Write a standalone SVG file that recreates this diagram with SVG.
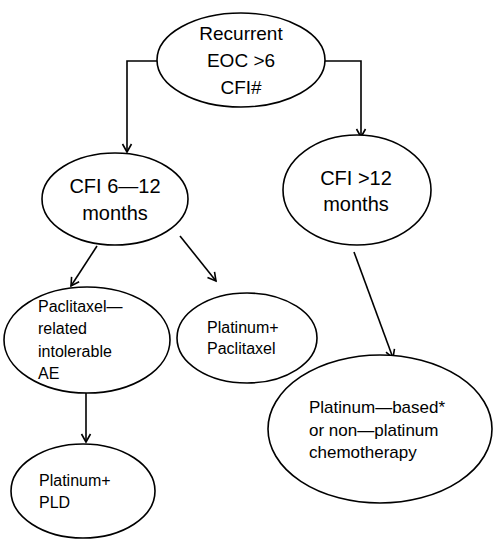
<svg xmlns="http://www.w3.org/2000/svg" width="499" height="550" viewBox="0 0 499 550">
<style>
.n{fill:#fff;stroke:#000;stroke-width:1.6}
.t{font-family:"Liberation Sans",Arial,sans-serif;fill:#000}
.c{fill:none;stroke:#000;stroke-width:1.6}
</style>
<defs>
<marker id="a" markerWidth="12" markerHeight="12" refX="10" refY="6" orient="auto" markerUnits="userSpaceOnUse">
<path d="M2,1.5 L10,6 L2,10.5" fill="none" stroke="#000" stroke-width="1.6"/>
</marker>
</defs>
<rect width="499" height="550" fill="#fff"/>
<g id="connectors">
<path class="c" d="M157,61 H127 V152" marker-end="url(#a)"/>
<path class="c" d="M325,61 H361 V137" marker-end="url(#a)"/>
<path class="c" d="M97,246 L71,286" marker-end="url(#a)"/>
<path class="c" d="M180,236 L216,281" marker-end="url(#a)"/>
<path class="c" d="M354,252 L393,358" marker-end="url(#a)"/>
<path class="c" d="M86,393 V442" marker-end="url(#a)"/>
</g>
<g id="recurrent">
<ellipse class="n" cx="241" cy="60" rx="84" ry="47"/>
<text class="t" font-size="19" text-anchor="middle"><tspan x="241" y="40">Recurrent</tspan><tspan x="241" y="67">EOC &gt;6</tspan><tspan x="241" y="94">CFI#</tspan></text>
</g>
<g id="cfi6-12">
<ellipse class="n" cx="115" cy="199" rx="73" ry="46"/>
<text class="t" font-size="20" text-anchor="middle"><tspan x="115" y="193">CFI 6—12</tspan><tspan x="115" y="220">months</tspan></text>
</g>
<g id="cfi12">
<ellipse class="n" cx="357" cy="190" rx="74" ry="55"/>
<text class="t" font-size="20" text-anchor="middle"><tspan x="356" y="185">CFI &gt;12</tspan><tspan x="356" y="211">months</tspan></text>
</g>
<g id="paclitaxel-ae">
<ellipse class="n" cx="87" cy="340" rx="83" ry="53"/>
<text class="t" font-size="16"><tspan x="38" y="312">Paclitaxel—</tspan><tspan x="38" y="334">related</tspan><tspan x="38" y="357">intolerable</tspan><tspan x="38" y="379">AE</tspan></text>
</g>
<g id="platinum-paclitaxel">
<ellipse class="n" cx="247" cy="338" rx="70" ry="45"/>
<text class="t" font-size="16"><tspan x="207" y="333">Platinum+</tspan><tspan x="207" y="354">Paclitaxel</tspan></text>
</g>
<g id="platinum-based">
<ellipse class="n" cx="380" cy="429" rx="112" ry="74"/>
<text class="t" font-size="17"><tspan x="309" y="413">Platinum—based*</tspan><tspan x="309" y="436">or non—platinum</tspan><tspan x="309" y="458">chemotherapy</tspan></text>
</g>
<g id="platinum-pld">
<ellipse class="n" cx="83" cy="491" rx="72" ry="47"/>
<text class="t" font-size="16"><tspan x="39" y="486">Platinum+</tspan><tspan x="39" y="508">PLD</tspan></text>
</g>
</svg>
